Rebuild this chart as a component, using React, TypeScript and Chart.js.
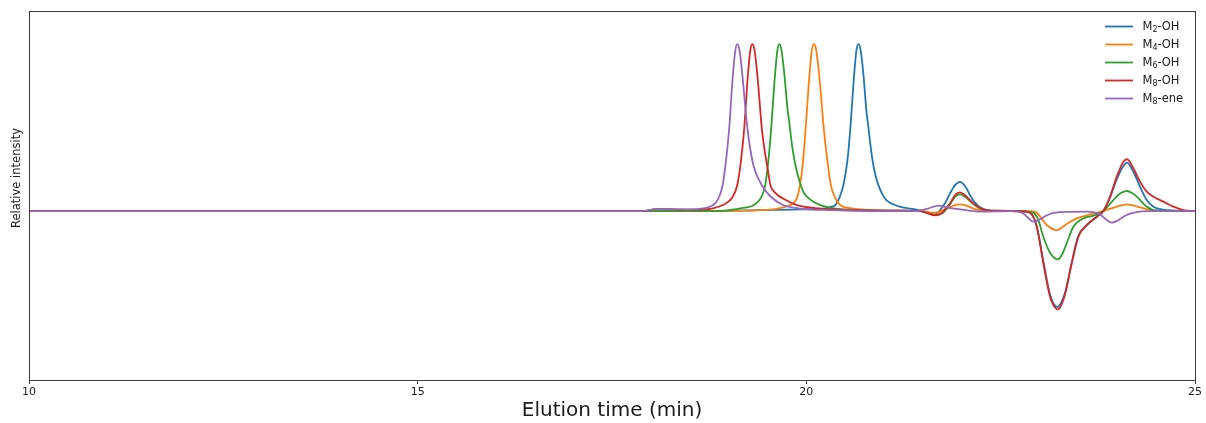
import { useEffect, useRef } from "react";
import { Chart, registerables } from "chart.js";

Chart.register(...registerables);

const FONT_FAMILY = "'DejaVu Sans', sans-serif";

const seriesLabels = ["M₂-OH", "M₄-OH", "M₆-OH", "M₈-OH", "M₈-ene"];
const seriesColors = ["#1f77b4", "#ff7f0e", "#2ca02c", "#d62728", "#9467bd"];
const xTickValues = [10, 15, 20, 25];
const xMin = 10;
const xMax = 25;
const yMin = -1.012;
const yMax = 1.198;
const xAxisTitle = "Elution time (min)";
const yAxisTitle = "Relative intensity";

// [elution time (min), relative intensity]
const m2ohPoints: [number, number][] = [
  [10, 0], [18.632, 0], [19.404, 0.005], [19.919, 0.01], [20.22, 0.015], [20.31, 0.025],
  [20.374, 0.036], [20.426, 0.08], [20.477, 0.156], [20.528, 0.3], [20.567, 0.5], [20.606, 0.76],
  [20.644, 0.96], [20.67, 1.0], [20.696, 0.97], [20.734, 0.82], [20.773, 0.6], [20.799, 0.5],
  [20.837, 0.35], [20.876, 0.24], [20.927, 0.155], [20.979, 0.1], [21.03, 0.065], [21.095, 0.045],
  [21.21, 0.025], [21.378, 0.012], [21.463, 0.004], [21.553, -0.008], [21.656, -0.02], [21.72, 0.005],
  [21.784, 0.048], [21.849, 0.106], [21.913, 0.155], [21.977, 0.175], [22.042, 0.15], [22.106, 0.095],
  [22.17, 0.05], [22.235, 0.022], [22.325, 0.006], [22.492, 0], [22.749, 0], [22.878, -0.01],
  [22.964, -0.09], [23.049, -0.3], [23.135, -0.5], [23.187, -0.56], [23.234, -0.575], [23.277, -0.55],
  [23.328, -0.49], [23.414, -0.31], [23.499, -0.15], [23.607, -0.085], [23.736, -0.034], [23.821, 0],
  [23.907, 0.08], [23.993, 0.19], [24.079, 0.27], [24.127, 0.29], [24.207, 0.235], [24.293, 0.146],
  [24.379, 0.066], [24.465, 0.026], [24.594, 0.008], [24.744, 0.003], [25, 0],
];

const m4ohPoints: [number, number][] = [
  [10, 0], [18.632, 0], [19.147, 0.002], [19.404, 0.006], [19.597, 0.012], [19.726, 0.025],
  [19.829, 0.045], [19.881, 0.08], [19.919, 0.156], [19.958, 0.3], [19.992, 0.5], [20.031, 0.76],
  [20.07, 0.96], [20.099, 1.0], [20.125, 0.97], [20.164, 0.82], [20.202, 0.62], [20.219, 0.52],
  [20.258, 0.35], [20.315, 0.156], [20.37, 0.08], [20.434, 0.036], [20.524, 0.02], [20.691, 0.01],
  [20.948, 0.004], [21.463, 0], [21.656, -0.01], [21.784, 0.01], [21.913, 0.035], [21.977, 0.04],
  [22.042, 0.035], [22.17, 0.012], [22.363, 0], [22.878, 0], [22.964, -0.01], [23.093, -0.084],
  [23.221, -0.114], [23.35, -0.078], [23.479, -0.044], [23.65, -0.02], [23.821, 0], [23.993, 0.026],
  [24.123, 0.04], [24.293, 0.022], [24.465, 0.003], [25, 0],
];

const m6ohPoints: [number, number][] = [
  [10, 0], [18.632, 0], [18.953, 0.003], [19.081, 0.01], [19.211, 0.02], [19.301, 0.03],
  [19.365, 0.05], [19.417, 0.08], [19.472, 0.156], [19.511, 0.3], [19.549, 0.5], [19.588, 0.76],
  [19.627, 0.96], [19.653, 1.0], [19.678, 0.97], [19.717, 0.82], [19.756, 0.62], [19.781, 0.53],
  [19.82, 0.38], [19.871, 0.25], [19.919, 0.17], [19.961, 0.115], [20.022, 0.08], [20.09, 0.056],
  [20.219, 0.03], [20.369, 0.015], [20.562, 0.008], [20.819, 0.004], [21.205, 0.002], [21.463, 0],
  [21.656, -0.024], [21.759, -0.01], [21.849, 0.04], [21.913, 0.085], [21.977, 0.1], [22.042, 0.085],
  [22.149, 0.042], [22.274, 0.008], [22.428, 0.002], [22.749, 0], [22.916, -0.01], [22.981, -0.05],
  [23.049, -0.154], [23.135, -0.25], [23.234, -0.289], [23.29, -0.26], [23.35, -0.193], [23.435, -0.094],
  [23.564, -0.044], [23.693, -0.028], [23.821, 0], [23.95, 0.066], [24.036, 0.105], [24.123, 0.12],
  [24.191, 0.108], [24.252, 0.086], [24.38, 0.026], [24.508, 0.003], [25, 0],
];

const m8ohPoints: [number, number][] = [
  [10, 0], [17.86, 0], [18.118, 0.012], [18.439, 0.008], [18.696, 0.01], [18.8, 0.016],
  [18.928, 0.036], [18.992, 0.055], [19.04, 0.076], [19.112, 0.156], [19.159, 0.3], [19.202, 0.5],
  [19.241, 0.77], [19.279, 0.96], [19.305, 1.0], [19.331, 0.97], [19.369, 0.82], [19.408, 0.6],
  [19.426, 0.5], [19.468, 0.35], [19.507, 0.24], [19.537, 0.156], [19.597, 0.11], [19.7, 0.075],
  [19.88, 0.036], [20.112, 0.018], [20.369, 0.01], [20.69, 0.005], [21.205, 0.002], [21.463, 0],
  [21.656, -0.026], [21.746, -0.01], [21.784, 0.01], [21.849, 0.046], [21.913, 0.095], [21.977, 0.112],
  [22.042, 0.095], [22.149, 0.046], [22.274, 0.01], [22.428, 0.002], [22.749, 0], [22.878, -0.01],
  [22.964, -0.094], [23.049, -0.313], [23.135, -0.513], [23.187, -0.57], [23.234, -0.589], [23.277, -0.565],
  [23.328, -0.5], [23.414, -0.313], [23.499, -0.154], [23.607, -0.084], [23.736, -0.034], [23.821, 0],
  [23.907, 0.086], [23.993, 0.205], [24.079, 0.295], [24.127, 0.31], [24.207, 0.256], [24.293, 0.176],
  [24.379, 0.116], [24.465, 0.086], [24.594, 0.056], [24.722, 0.026], [24.851, 0.006], [25, 0],
];

const m8enePoints: [number, number][] = [
  [10, 0], [17.86, 0], [18.118, 0.012], [18.504, 0.01], [18.671, 0.016], [18.8, 0.036],
  [18.863, 0.07], [18.924, 0.156], [18.966, 0.3], [19.009, 0.5], [19.048, 0.77], [19.086, 0.96],
  [19.112, 1.0], [19.138, 0.97], [19.176, 0.82], [19.215, 0.62], [19.241, 0.5], [19.279, 0.37],
  [19.327, 0.26], [19.426, 0.156], [19.533, 0.09], [19.7, 0.036], [19.919, 0.015], [20.305, 0.005],
  [20.819, 0], [21.398, 0], [21.566, 0.015], [21.695, 0.032], [21.823, 0.02], [21.977, 0.01],
  [22.235, -0.004], [22.621, 0], [22.775, -0.01], [22.852, -0.04], [22.92, -0.064], [23.006, -0.05],
  [23.096, -0.025], [23.199, -0.01], [23.392, -0.005], [23.611, -0.004], [23.778, -0.02], [23.855, -0.05],
  [23.929, -0.07], [24.01, -0.055], [24.113, -0.025], [24.229, -0.008], [24.422, 0], [25, 0],
];

const allSeries = [m2ohPoints, m4ohPoints, m6ohPoints, m8ohPoints, m8enePoints];

const SUBSCRIPTS = "₀₁₂₃₄₅₆₇₈₉";

export default function App() {
  const canvasRef = useRef<HTMLCanvasElement | null>(null);

  useEffect(() => {
    const canvas = canvasRef.current;
    if (!canvas) return;

    const framePlugin = {
      id: "frame",
      afterDatasetsDraw(chart: any) {
        const { ctx, chartArea } = chart;
        ctx.save();
        ctx.strokeStyle = "#3c3c3c";
        ctx.lineWidth = 1;
        ctx.strokeRect(
          chartArea.left + 0.5,
          chartArea.top + 0.5,
          chartArea.right - chartArea.left,
          chartArea.bottom - chartArea.top
        );
        ctx.restore();
      },
    };

    const drawLabel = (ctx: CanvasRenderingContext2D, text: string, x: number, y: number) => {
      let cx = x;
      for (const ch of text) {
        const si = SUBSCRIPTS.indexOf(ch);
        if (si >= 0) {
          ctx.font = `8px ${FONT_FAMILY}`;
          const d = String(si);
          ctx.fillText(d, cx, y + 3);
          cx += ctx.measureText(d).width;
        } else {
          ctx.font = `11.5px ${FONT_FAMILY}`;
          ctx.fillText(ch, cx, y);
          cx += ctx.measureText(ch).width;
        }
      }
    };

    const legendPlugin = {
      id: "innerLegend",
      afterDraw(chart: any) {
        const { ctx, chartArea } = chart;
        ctx.save();
        ctx.textBaseline = "middle";
        ctx.textAlign = "left";
        chart.data.datasets.forEach((ds: any, i: number) => {
          const y = chartArea.top + 15.5 + i * 18;
          ctx.strokeStyle = ds.borderColor;
          ctx.lineWidth = 1.8;
          ctx.beginPath();
          ctx.moveTo(chartArea.right - 90, y);
          ctx.lineTo(chartArea.right - 62, y);
          ctx.stroke();
          ctx.fillStyle = "#1a1a1a";
          drawLabel(ctx, ds.label, chartArea.right - 52.5, y + 0.5);
        });
        ctx.restore();
      },
    };

    const yTitlePlugin = {
      id: "yTitle",
      afterDraw(chart: any) {
        const { ctx } = chart;
        ctx.save();
        ctx.translate(17.5, 178);
        ctx.rotate(-Math.PI / 2);
        ctx.font = `11.5px ${FONT_FAMILY}`;
        ctx.fillStyle = "#1a1a1a";
        ctx.textAlign = "center";
        ctx.textBaseline = "middle";
        ctx.fillText(yAxisTitle, 0, 0);
        ctx.restore();
      },
    };

    const chart = new Chart(canvas, {
      type: "line",
      data: {
        datasets: allSeries.map((pts, i) => ({
          label: seriesLabels[i],
          data: pts.map(([x, y]) => ({ x, y })),
          borderColor: seriesColors[i],
          backgroundColor: seriesColors[i],
          borderWidth: 1.8,
          pointRadius: 0,
          fill: false,
          cubicInterpolationMode: "monotone" as const,
          order: allSeries.length - i,
        })),
      },
      options: {
        animation: false,
        responsive: false,
        devicePixelRatio: 1,
        layout: { padding: { left: 29, right: 11, top: 11, bottom: 0 } },
        plugins: {
          legend: { display: false },
          tooltip: { enabled: false },
        },
        scales: {
          x: {
            type: "linear",
            min: xMin,
            max: xMax,
            afterBuildTicks: (scale: any) => {
              scale.ticks = xTickValues.map((v) => ({ value: v }));
            },
            afterFit: (scale: any) => {
              scale.height = 43;
            },
            grid: {
              display: true,
              drawOnChartArea: false,
              drawTicks: true,
              tickLength: 4,
              color: "#3c3c3c",
              lineWidth: 1,
            },
            border: { display: false },
            ticks: {
              font: { family: FONT_FAMILY, size: 11 },
              color: "#1a1a1a",
              padding: 2,
              maxRotation: 0,
              autoSkip: false,
            },
            title: {
              display: true,
              text: xAxisTitle,
              font: { family: FONT_FAMILY, size: 20 },
              color: "#1a1a1a",
              padding: { top: 0, bottom: 0 },
            },
          },
          y: {
            display: false,
            min: yMin,
            max: yMax,
          },
        },
      },
      plugins: [framePlugin, legendPlugin, yTitlePlugin],
    });

    return () => chart.destroy();
  }, []);

  return (
    <div style={{ position: "absolute", left: 0, top: 0, width: 1206, height: 423, background: "#fff" }}>
      <canvas ref={canvasRef} width={1206} height={423} style={{ display: "block" }} />
    </div>
  );
}
